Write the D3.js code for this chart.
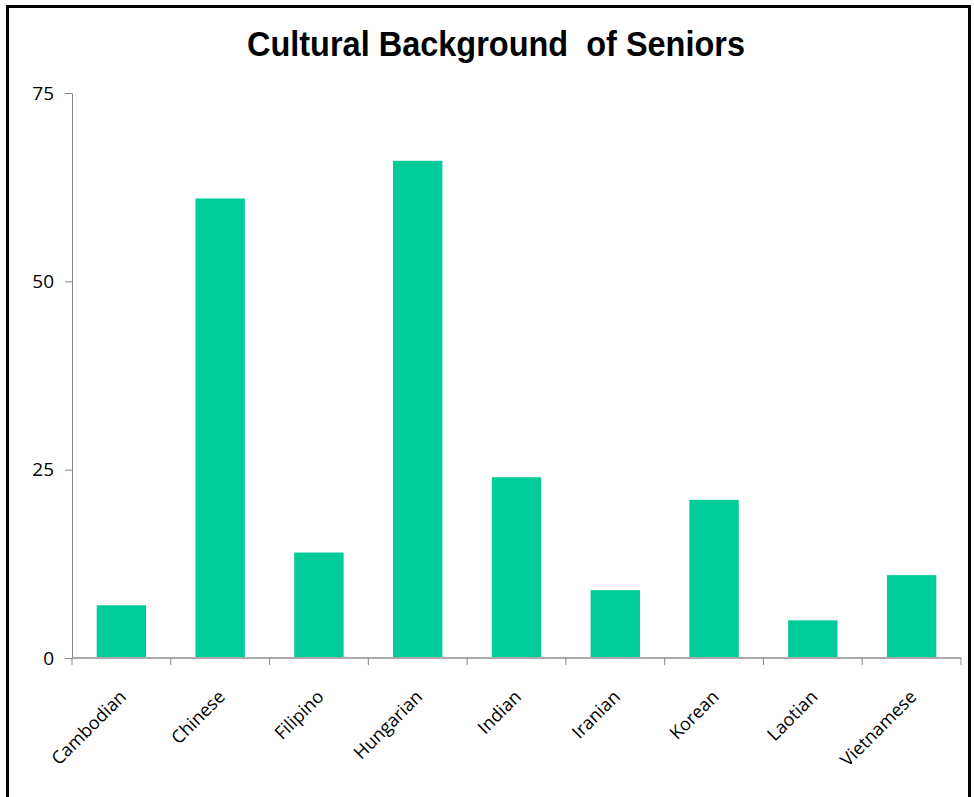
<!DOCTYPE html>
<html><head><meta charset="utf-8">
<script src="https://cdn.jsdelivr.net/npm/d3@7"></script>
<style>html,body{margin:0;padding:0;background:#fff;}</style>
</head><body>
<svg id="chart" width="974" height="797"></svg>
<script>
const categories = ["Cambodian","Chinese","Filipino","Hungarian","Indian","Iranian","Korean","Laotian","Vietnamese"];
const values = [7, 61, 14, 66, 24, 9, 21, 5, 11];
const yTicks = [0, 25, 50, 75];
const titleText = "Cultural Background  of Seniors";

const svg = d3.select("#chart");
// outer frame
svg.append("rect").attr("x", 7.5).attr("y", 6.5).attr("width", 962).attr("height", 800)
  .attr("fill", "#fff").attr("stroke", "#000").attr("stroke-width", 3);

const mLeft = 72, mRight = 961, mTop = 93, mBottom = 658;
const x = d3.scaleBand().domain(categories).range([mLeft, mRight]).paddingInner(0.5).paddingOuter(0.25);
const y = d3.scaleLinear().domain([0, 75]).range([mBottom, mTop]);

const title = svg.append("text").attr("x", 496).attr("y", 56).attr("text-anchor", "middle")
  .style("font-family", "Liberation Sans, Arial, sans-serif").style("font-weight", "bold")
  .style("font-size", "35px").style("white-space", "pre").attr("fill", "#000").text(titleText);
title.attr("textLength", 498).attr("lengthAdjust", "spacingAndGlyphs");

// bars
svg.append("g").selectAll("rect").data(categories).join("rect")
  .attr("x", d => x(d)).attr("width", x.bandwidth())
  .attr("y", (d, i) => y(values[i])).attr("height", (d, i) => y(0) - y(values[i]))
  .attr("fill", "#00CC99");

// y axis
const yAxis = svg.append("g").attr("transform", `translate(${mLeft},0)`)
  .call(d3.axisLeft(y).tickValues(yTicks).tickSize(7).tickPadding(11).tickSizeOuter(0));
yAxis.select(".domain").attr("stroke", "#888");
yAxis.selectAll(".tick line").attr("stroke", "#888");
yAxis.selectAll(".tick text").style("font-family", "Open Sans, sans-serif").style("font-size", "19px").attr("fill", "#000");

// x axis
const xAxis = svg.append("g").attr("transform", `translate(0,${mBottom})`);
xAxis.append("line").attr("x1", mLeft).attr("x2", mRight).attr("stroke", "#aaa").attr("stroke-width", 2);
const step = x.step();
const boundaries = d3.range(categories.length + 1).map(i => x(categories[0]) - x.bandwidth() * 0.5 + i * step);
xAxis.selectAll(".xt").data(boundaries).join("line").attr("class", "xt")
  .attr("x1", d => d).attr("x2", d => d).attr("y1", 0).attr("y2", 7).attr("stroke", "#888");
xAxis.selectAll(".xl").data(categories).join("text").attr("class", "xl")
  .attr("transform", d => `translate(${x(d) + x.bandwidth() / 2 - 3},${31}) rotate(-45)`)
  .attr("text-anchor", "end").attr("dy", "0.7em")
  .style("font-family", "Open Sans, sans-serif").style("font-size", "18px").attr("fill", "#000")
  .text(d => d);
</script>
</body></html>
